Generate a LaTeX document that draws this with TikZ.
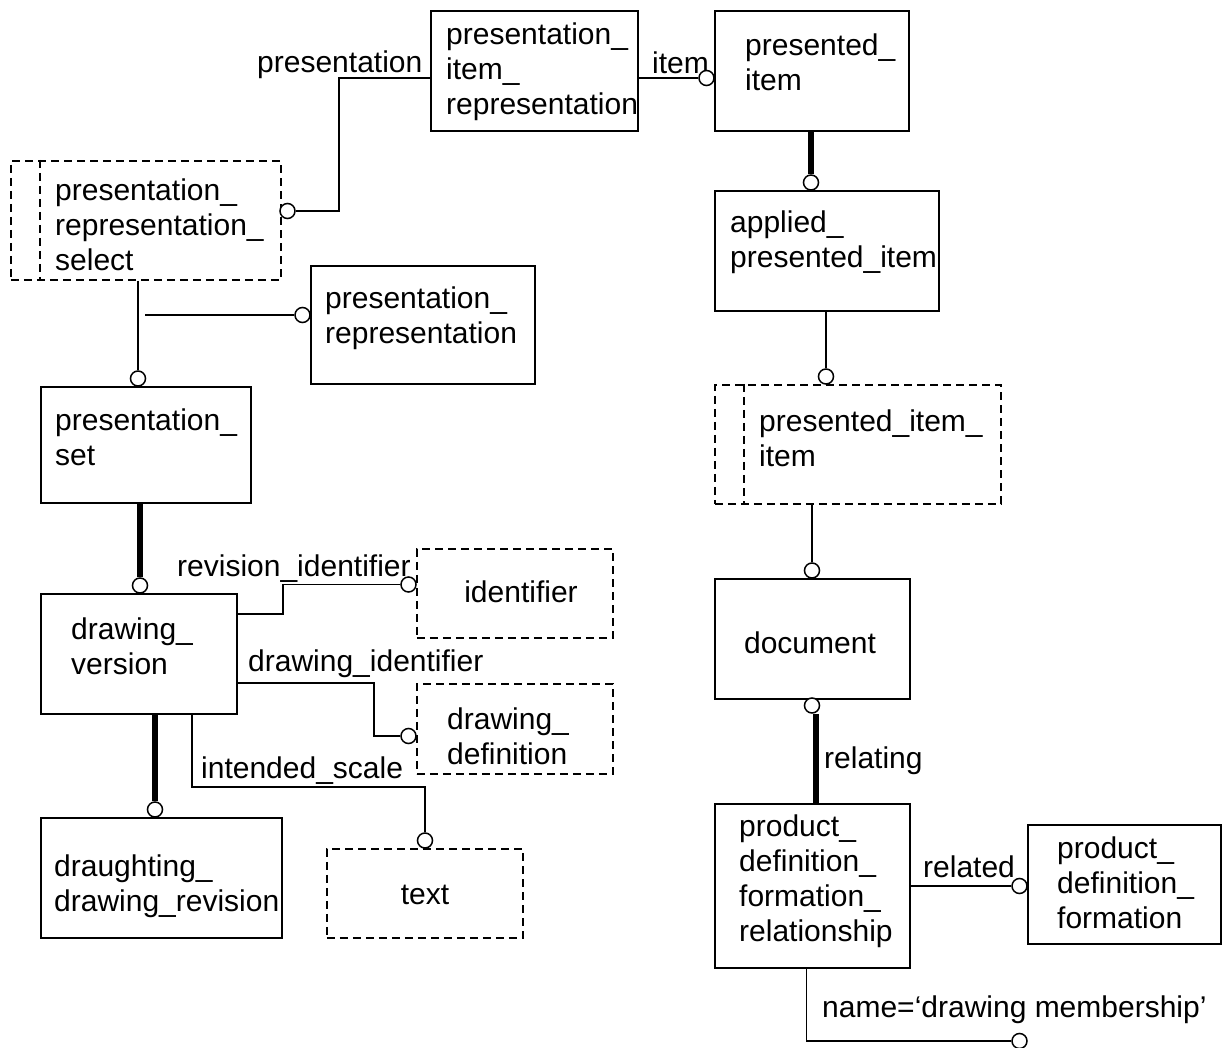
\documentclass[tikz,border=0pt]{standalone}
\usepackage{fontspec}
\setmainfont{Liberation Sans}
\newcommand\diafont{\fontsize{30}{35}\selectfont}
\begin{document}
\begin{tikzpicture}[x=1pt,y=-1pt,
  ent/.style={draw, line width=1.6pt, rectangle, inner sep=0pt, anchor=north west},
  sel/.style={ent, dash pattern=on 8pt off 5pt},
  selline/.style={line width=1.6pt, dash pattern=on 8pt off 5pt},
  txt/.style={inner sep=0pt, font=\diafont, align=left, anchor=west},
  lbl/.style={inner sep=0pt, font=\diafont, text height=22pt, text depth=6.5pt, anchor=west},
  conn/.style={line width=1.6pt},
  strong/.style={line width=6pt},
  ring/.style={circle, draw, line width=1.5pt, fill=white, minimum size=15pt, inner sep=0pt}]
\useasboundingbox (0,0) rectangle (1224,1048);

% entity boxes
\node[ent, minimum width=207pt, minimum height=120pt] (pir) at (430,10) {};
\node[ent, minimum width=194pt, minimum height=120pt] (pi) at (714,10) {};
\node[ent, minimum width=224pt, minimum height=120pt] (api) at (714,190) {};
\node[sel, minimum width=270pt, minimum height=119pt] (prs) at (10,160) {};
\node[ent, minimum width=224pt, minimum height=118pt] (pr) at (310,265) {};
\node[ent, minimum width=210pt, minimum height=116pt] (ps) at (40,386) {};
\node[ent, minimum width=196pt, minimum height=120pt] (dv) at (40,593) {};
\node[sel, minimum width=196pt, minimum height=89pt] (ident) at (416,548) {};
\node[sel, minimum width=196pt, minimum height=90pt] (ddef) at (416,683) {};
\node[ent, minimum width=241pt, minimum height=120pt] (ddr) at (40,817) {};
\node[sel, minimum width=196pt, minimum height=89pt] (textb) at (326,848) {};
\node[sel, minimum width=286pt, minimum height=119pt] (pii) at (714,384) {};
\node[ent, minimum width=195pt, minimum height=120pt] (doc) at (714,578) {};
\node[ent, minimum width=195pt, minimum height=164pt] (pdfr) at (714,803) {};
\node[ent, minimum width=193pt, minimum height=119pt] (pdf) at (1027,824) {};

% inner bars of the select types
\draw[selline] ([xshift=30pt]prs.north west) -- ([xshift=30pt]prs.south west);
\draw[selline] ([xshift=30pt]pii.north west) -- ([xshift=30pt]pii.south west);

% box texts
\node[txt] (pir-t) at (446,72) {presentation\_\\item\_\\representation};
\node[txt] (pi-t) at (745,62.5) {presented\_\\item};
\node[txt] (api-t) at (730,242.5) {applied\_\\presented\_item};
\node[txt] (prs-t) at (55,225) {presentation\_\\representation\_\\select};
\node[txt] (pr-t) at (325,318.5) {presentation\_\\representation};
\node[txt] (ps-t) at (55,437.5) {presentation\_\\set};
\node[txt] (dv-t) at (71,646.5) {drawing\_\\version};
\node[lbl, anchor=center] (ident-t) at (521,595) {identifier};
\node[txt] (ddef-t) at (447,736.5) {drawing\_\\definition};
\node[txt] (ddr-t) at (54,886) {draughting\_\\drawing\_revision};
\node[lbl, anchor=center] (textb-t) at (425,897) {text};
\node[txt] (pii-t) at (759,438.5) {presented\_item\_\\item};
\node[lbl, anchor=center] (doc-t) at (810,646) {document};
\node[txt] (pdfr-t) at (739,881.5) {product\_\\definition\_\\formation\_\\relationship};
\node[txt] (pdf-t) at (1057,883) {product\_\\definition\_\\formation};

% attribute labels
\node[lbl] (l-pres) at (257,65) {presentation};
\node[lbl] (l-item) at (652,66) {item};
\node[lbl] (l-rel1) at (824,761) {relating};
\node[lbl] (l-rel2) at (923,870) {related};
\node[lbl] (l-name) at (822,1010) {name=‘drawing membership’};
\node[lbl] (l-rev) at (177,569) {revision\_identifier};
\node[lbl] (l-did) at (248,664) {drawing\_identifier};
\node[lbl] (l-sc) at (201,771) {intended\_scale};

% relationship end circles
\node[ring] (c-pres) at (287.5,211) {};
\node[ring] (c-item) at (706.5,78) {};
\node[ring] (c-api) at (811,182.5) {};
\node[ring] (c-pii) at (826,376.5) {};
\node[ring] (c-doc) at (812,570.5) {};
\node[ring] (c-docb) at (812,705.5) {};
\node[ring] (c-pdf) at (1019.5,886) {};
\node[ring] (c-name) at (1019.5,1041) {};
\node[ring] (c-ps) at (138,378.5) {};
\node[ring] (c-pr) at (302.5,315) {};
\node[ring] (c-dv) at (140,585.5) {};
\node[ring] (c-ident) at (408.5,584.5) {};
\node[ring] (c-ddef) at (408.5,736) {};
\node[ring] (c-ddr) at (155,809.5) {};
\node[ring] (c-text) at (425,840.5) {};

% connectors
\draw[conn] (pir.west |- c-item) -- (339,78) |- (c-pres);
\draw[conn] (pir.east |- c-item) -- (c-item);
\draw[strong] (pi.south -| c-api) -- (c-api);
\draw[conn] (api.south -| c-pii) -- (c-pii);
\draw[conn] (pii.south -| c-doc) -- (c-doc);
\draw[strong] ([xshift=4pt]c-docb.south) -- ([xshift=4pt]c-docb.south |- pdfr.north);
\draw[conn] (pdfr.east |- c-pdf) -- (c-pdf);
\draw[conn] ([xshift=-6pt]pdfr.south) |- (c-name);
\draw[conn] (prs.south -| c-ps) -- (c-ps);
\coordinate (br) at (145,315);
\draw[conn] (br) -- (c-pr);
\draw[strong] (ps.south -| c-dv) -- (c-dv);
\draw[conn] (dv.east |- 0,614) -- (283,614) |- (c-ident);
\draw[conn] (dv.east |- 0,683) -- (374,683) |- (c-ddef);
\draw[conn] (dv.south -| 192,0) -- (192,787) -| (c-text);
\draw[strong] (dv.south -| c-ddr) -- (c-ddr);
\end{tikzpicture}
\end{document}
